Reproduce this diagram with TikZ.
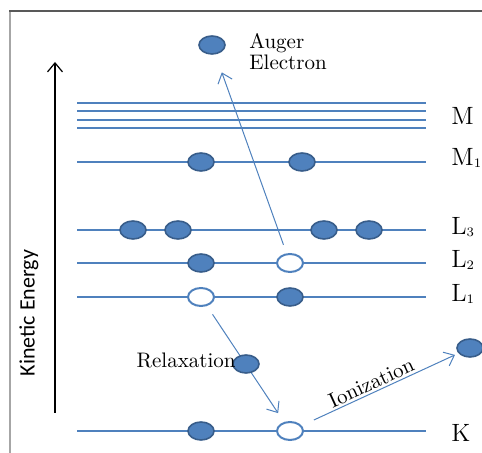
\documentclass[tikz,border=0pt]{standalone}
\usepackage{fontspec}
\newfontfamily\axisfont{Carlito}
\usetikzlibrary{arrows.meta,shapes.geometric,backgrounds}

\definecolor{eblue}{HTML}{4F81BD}
\definecolor{edark}{HTML}{385D8A}
\newcommand{\shellsub}[1]{\raisebox{-0.6pt}{\fontsize{6.5}{7}\selectfont #1}}

\begin{document}
\begin{tikzpicture}[x=0.5pt, y=-0.5pt, >={Straight Barb[length=4.5pt,width=7.5pt]}, node distance=44.5pt,
    electron/.style={ellipse, draw=edark, fill=eblue, line width=0.8pt, minimum width=13pt, minimum height=9pt, inner sep=0pt},
    hole/.style={electron, draw=eblue, fill=white, line width=1pt},
    level/.style={draw=eblue, line width=0.8pt},
    shell/.style={anchor=base west, font=\fontsize{12.5}{14}\selectfont, inner sep=0pt},
    tag/.style={font=\fontsize{10.5}{10.5}\selectfont, inner sep=0pt},
    jump/.style={->, draw=eblue, line width=0.5pt}]

    \useasboundingbox (0,0) rectangle (482,453);
    \clip (0,0) rectangle (482,453);

    % Frame
    \draw [black!35, line width=1pt] (9.5,11) -- (9.5,453);
    \draw [black!65, line width=0.6pt] (9,11) -- (482,11);

    % Energy axis
    \coordinate (ebot) at (55,413);
    \coordinate (etop) at (55,62);
    \draw [->, line width=0.6pt] (ebot) -- (etop);
    \node [rotate=90, inner sep=0pt, font=\axisfont\fontsize{11}{12}\selectfont] (axis) at (29,313) {Kinetic Energy};

    % Levels {M, M1, L3, L2, L1, K}
    \foreach \y in {103,111,120,128,162,230,263,297,431}
        \draw [level] (77,\y) -- (426,\y);

    % Shell labels
    \node [shell] (lm)  at (451,125) {M};
    \node [shell] (lm1) at (451,166) {M\shellsub{1}};
    \node [shell] (ll3) at (451,235) {L\shellsub{3}};
    \node [shell] (ll2) at (451,268) {L\shellsub{2}};
    \node [shell] (ll1) at (451,302) {L\shellsub{1}};
    \node [shell] (lk)  at (451,442) {K};

    % Electrons and holes
    \node [electron] (auger) at (212,45)  {};
    \node [electron] (m1a)   at (201,162) {};
    \node [electron] (m1b)   at (302,162) {};
    \node [electron] (l3a)   at (133,230) {};
    \node [electron] (l3b)   [right of=l3a, node distance=22.5pt] {};
    \node [electron] (l3c)   at (324,230) {};
    \node [electron] (l3d)   [right of=l3c, node distance=22.5pt] {};
    \node [electron] (l2a)   at (201,263) {};
    \node [hole]     (l2b)   [right of=l2a] {};
    \node [hole]     (l1a)   at (201,297) {};
    \node [electron] (l1b)   [right of=l1a] {};
    \node [electron] (k1)    at (201,431) {};
    \node [hole]     (k2)    [right of=k1]  {};
    \node [electron] (relax) at (246,364) {};
    \node [electron] (ion)   at (470,348) {};

    % Texts
    \node [tag, anchor=base west] (augtxt)  at (249,49)  {Auger};
    \node [tag, anchor=base west] (elctxt)  at (249,70)  {Electron};
    \node [tag, anchor=base east] (relxtxt) at (236,368) {Relaxation};

    % Paths
    \begin{pgfonlayer}{background}
    \path [jump] (l2b) edge [shorten <=4.5pt, shorten >=9.5pt] (auger);
    \path [jump] (l1a) edge [shorten <=5pt, shorten >=5.3pt]   (k2);
    \path [jump] (k2)  edge [shorten <=6.7pt, shorten >=1.9pt] node [tag, sloped, above, pos=0.47, inner sep=1pt] {Ionization} (ion);
    \end{pgfonlayer}

\end{tikzpicture}
\end{document}
